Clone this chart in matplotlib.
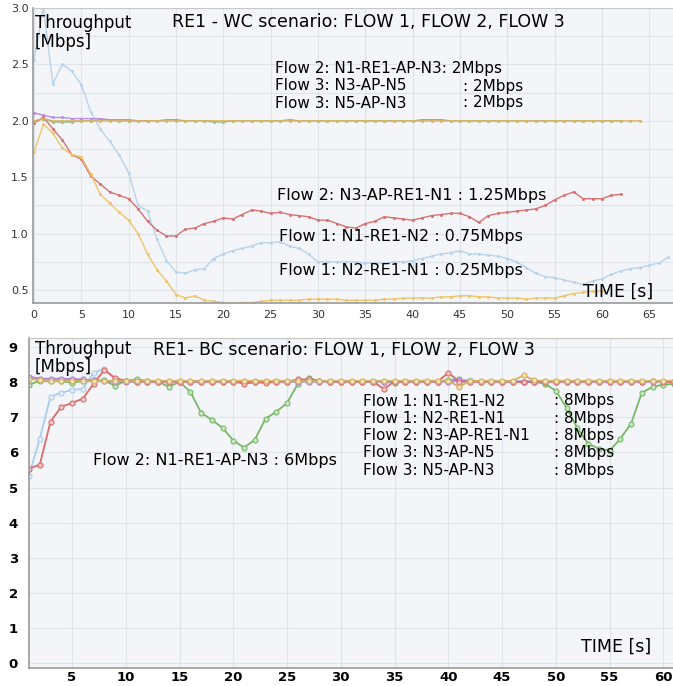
import matplotlib
matplotlib.use("Agg")
import matplotlib.pyplot as plt
import numpy as np
from matplotlib.ticker import MultipleLocator

W, H = 673, 686

# ---------------- WC scenario (top panel) ----------------
t_blue_wc = np.arange(0, 68)
blue_wc = [2.54, 3.00, 2.33, 2.50, 2.44, 2.32, 2.08, 1.93, 1.82, 1.70,
           1.54, 1.25, 1.20, 0.95, 0.76, 0.66, 0.65, 0.68, 0.69, 0.78,
           0.82, 0.85, 0.87, 0.89, 0.92, 0.92, 0.93, 0.89, 0.87, 0.82,
           0.75, 0.75, 0.75, 0.75, 0.75, 0.74, 0.74, 0.74, 0.75, 0.75,
           0.76, 0.78, 0.80, 0.82, 0.83, 0.85, 0.82, 0.82, 0.81, 0.80,
           0.78, 0.75, 0.70, 0.65, 0.62, 0.61, 0.59, 0.57, 0.55, 0.58,
           0.60, 0.64, 0.67, 0.69, 0.70, 0.72, 0.74, 0.79]

t_red_wc = np.arange(0, 63)
red_wc = [1.98, 2.03, 1.93, 1.83, 1.70, 1.66, 1.51, 1.44, 1.37, 1.34,
          1.31, 1.22, 1.11, 1.03, 0.98, 0.98, 1.04, 1.05, 1.09, 1.11,
          1.14, 1.13, 1.17, 1.21, 1.20, 1.18, 1.19, 1.17, 1.16, 1.15,
          1.12, 1.12, 1.09, 1.06, 1.05, 1.09, 1.11, 1.15, 1.14, 1.13,
          1.12, 1.14, 1.16, 1.17, 1.18, 1.18, 1.15, 1.10, 1.16, 1.18,
          1.19, 1.20, 1.21, 1.22, 1.25, 1.30, 1.34, 1.37, 1.31, 1.31,
          1.31, 1.34, 1.35]

t_yellow_wc = np.arange(0, 61)
yellow_wc = [1.72, 1.97, 1.89, 1.76, 1.70, 1.68, 1.53, 1.35, 1.27, 1.19,
             1.12, 1.00, 0.82, 0.68, 0.58, 0.46, 0.43, 0.45, 0.41, 0.40,
             0.39, 0.38, 0.39, 0.39, 0.40, 0.41, 0.41, 0.41, 0.41, 0.42,
             0.42, 0.42, 0.42, 0.41, 0.41, 0.41, 0.41, 0.42, 0.42, 0.43,
             0.43, 0.43, 0.43, 0.44, 0.44, 0.45, 0.45, 0.44, 0.44, 0.43,
             0.43, 0.43, 0.42, 0.43, 0.43, 0.43, 0.45, 0.47, 0.48, 0.49,
             0.49]

t_green_wc = np.arange(0, 63)
green_wc = [1.99, 2.02, 1.99, 1.99, 1.99, 2.00, 2.00, 2.01, 2.01, 2.00,
            2.00, 2.00, 2.00, 2.00, 2.01, 2.01, 2.00, 2.00, 2.00, 1.99,
            1.99, 2.00, 2.00, 2.00, 2.00, 2.00, 2.00, 2.01, 2.00, 2.00,
            2.00, 2.00, 2.00, 2.00, 2.00, 2.00, 2.00, 2.00, 2.00, 2.00,
            2.00, 2.01, 2.01, 2.01, 2.00, 2.00, 2.00, 2.00, 2.00, 2.00,
            2.00, 2.00, 2.00, 2.00, 2.00, 2.00, 2.00, 2.00, 2.00, 2.00,
            2.00, 2.00, 2.00]

t_purple_wc = np.arange(0, 13)
purple_wc = [2.07, 2.05, 2.03, 2.03, 2.02, 2.02, 2.02, 2.02, 2.01, 2.01,
             2.01, 2.00, 2.00]

t_tan_wc = np.arange(0, 65)
tan_wc = [2.00, 2.02] + [2.00] * 63

# ---------------- BC scenario (bottom panel) ----------------
t_bc = np.arange(1, 62)
green_bc = [7.93, 8.04, 8.04, 8.04, 7.98, 8.04, 8.05, 8.05, 7.90, 8.04,
            8.08, 8.04, 8.02, 7.87, 8.01, 7.73, 7.13, 6.93, 6.70, 6.34,
            6.14, 6.36, 6.96, 7.16, 7.41, 7.95, 8.12, 8.04, 8.02, 8.02,
            8.02, 8.02, 8.02, 8.02, 7.98, 8.02, 8.02, 8.02, 8.02, 8.06,
            8.08, 8.04, 8.02, 8.02, 8.02, 8.02, 8.02, 8.02, 7.95, 7.76,
            7.27, 6.70, 6.25, 6.11, 6.05, 6.39, 6.82, 7.70, 7.87, 7.93,
            7.95]
blue_bc = [5.34, 6.39, 7.59, 7.70, 7.78, 7.81, 8.27, 8.38, 8.10, 8.03,
           8.02, 8.02, 8.02, 8.02, 8.02, 8.02, 8.02, 8.02, 8.02, 8.02,
           8.00, 8.02, 8.02, 8.02, 8.02, 8.02, 8.02, 8.02, 8.02, 8.02,
           8.02, 8.02, 8.02, 8.02, 8.02, 8.02, 8.02, 8.02, 8.02, 8.02,
           8.06, 8.05, 8.02, 8.02, 8.02, 8.02, 8.02, 8.02, 8.02, 8.02,
           8.02, 8.02, 8.02, 8.02, 8.02, 8.02, 8.02, 8.02, 8.02, 8.02,
           8.02]
purple_bc = [8.16, 8.10, 8.10, 8.10, 8.09, 8.08, 8.05, 8.03, 8.02, 8.02,
             8.02, 8.02, 8.02, 8.02, 8.02, 8.02, 8.02, 8.02, 8.02, 8.02,
             8.02, 8.02, 8.02, 8.02, 8.02, 8.02, 8.02, 8.02, 8.02, 8.02,
             8.02, 8.02, 8.02, 8.02, 8.02, 8.02, 8.02, 8.02, 8.02, 8.02,
             8.05, 8.02, 8.02, 8.02, 8.02, 8.02, 8.02, 8.02, 8.02, 8.02,
             8.02, 8.02, 8.02, 8.02, 8.02, 8.02, 8.02, 8.02, 8.02, 8.02,
             8.02]
red_bc = [5.54, 5.65, 6.88, 7.30, 7.41, 7.53, 7.95, 8.35, 8.12, 8.04,
          8.02, 8.02, 8.02, 8.02, 8.02, 8.02, 8.02, 8.02, 8.02, 8.02,
          7.96, 8.00, 7.98, 8.02, 8.02, 8.08, 8.08, 8.04, 8.02, 8.02,
          8.02, 8.02, 8.02, 7.81, 8.02, 8.02, 8.02, 8.02, 8.02, 8.27,
          8.02, 8.02, 8.02, 8.02, 8.02, 8.02, 8.00, 8.02, 8.02, 8.02,
          8.02, 8.02, 8.02, 8.02, 8.02, 8.02, 8.02, 8.02, 8.04, 8.02,
          8.00]
tan_bc = [8.10, 8.06, 8.04, 8.04, 8.04, 8.04, 8.04, 8.04, 8.04, 8.04,
          8.04, 8.04, 8.04, 8.04, 8.04, 8.04, 8.04, 8.04, 8.04, 8.04,
          8.04, 8.04, 8.04, 8.04, 8.04, 8.04, 8.04, 8.04, 8.04, 8.04,
          8.04, 8.04, 8.04, 8.04, 8.04, 8.04, 8.04, 8.04, 8.04, 8.04,
          7.87, 8.04, 8.04, 8.04, 8.04, 8.04, 8.20, 8.05, 8.04, 8.04,
          8.04, 8.04, 8.04, 8.04, 8.04, 8.04, 8.04, 8.04, 8.04, 8.04,
          8.04]

BG = "#f3f5f8"
GRID = "#dfe3ea"


def px(x, y):
    """figure pixel (from top-left) -> figure fraction"""
    return x / W, 1 - y / H


def style_axes(ax):
    ax.set_facecolor(BG)
    for s in ("left", "bottom"):
        ax.spines[s].set_color("#9a9a9a")
        ax.spines[s].set_linewidth(1.2)
    ax.spines["top"].set_color("#c8c8c8")
    ax.spines["right"].set_visible(False)
    ax.grid(True, which="both", color=GRID, linewidth=0.8)
    ax.set_axisbelow(True)
    ax.tick_params(which="both", length=0)


fig = plt.figure(figsize=(W / 100, H / 100), dpi=100)

# ---- top axes ----
ax1 = fig.add_axes([33 / W, 1 - 303 / H, (W - 33) / W, (303 - 8) / H])
style_axes(ax1)
ax1.set_xlim(-0.1, 67.5)
ax1.set_ylim(0.386, 3.0)
ax1.xaxis.set_major_locator(MultipleLocator(5))
ax1.yaxis.set_major_locator(MultipleLocator(0.5))
ax1.yaxis.set_minor_locator(MultipleLocator(0.25))
ax1.yaxis.set_major_formatter(matplotlib.ticker.FormatStrFormatter("%.1f"))
ax1.tick_params(axis="both", labelsize=8, labelcolor="#333333")
ax1.tick_params(axis="x", pad=5)
ax1.tick_params(axis="y", pad=3)

kw1 = dict(linewidth=1.0, marker="o", markersize=2.2, markeredgewidth=0)
ax1.plot(t_blue_wc, blue_wc, color="#b9d3ec", **kw1)
ax1.plot(t_green_wc, green_wc, color="#80c080", **kw1)
ax1.plot(t_purple_wc, purple_wc, color="#b88ce8", **kw1)
ax1.plot(t_red_wc, red_wc, color="#d77272", **kw1)
ax1.plot(t_yellow_wc, yellow_wc, color="#f0c468", **kw1)
ax1.plot(t_tan_wc, tan_wc, color="#d8b46a", **kw1)

# ---- bottom axes ----
ax2 = fig.add_axes([29 / W, 1 - 668 / H, (W - 29) / W, (668 - 338) / H])
style_axes(ax2)
ax2.set_xlim(1.0, 60.9)
ax2.set_ylim(-0.14, 9.26)
ax2.xaxis.set_major_locator(MultipleLocator(5))
ax2.yaxis.set_major_locator(MultipleLocator(1))
ax2.tick_params(axis="both", labelsize=9.5)
ax2.tick_params(axis="x", pad=2.5)
ax2.tick_params(axis="y", pad=8)
for lab in ax2.get_xticklabels() + ax2.get_yticklabels():
    lab.set_fontweight("bold")

def kw2(c, fc):
    return dict(color=c, linewidth=1.3, marker="o", markersize=3.6,
                markeredgewidth=0.8, markeredgecolor=c, markerfacecolor=fc)

ax2.plot(t_bc, green_bc, **kw2("#78b868", "#c9e6c0"))
ax2.plot(t_bc, blue_bc, **kw2("#a9cdec", "#e3eff9"))
ax2.plot(t_bc, purple_bc, **kw2("#ad7ae6", "#e0cdf6"))
ax2.plot(t_bc, red_bc, **kw2("#dc6a6a", "#f3c6c6"))
ax2.plot(t_bc, tan_bc, **kw2("#d4ae5a", "#f2e2b8"))

# ---- annotations ----
FS = 11        # stacked blocks
FL = 11.5      # single labels
TS = 12.5
fig.text(*px(35, 23), "Throughput", fontsize=12, va="center")
fig.text(*px(35, 42), "[Mbps]", fontsize=12, va="center")
fig.text(*px(172, 22), "RE1 - WC scenario: FLOW 1, FLOW 2, FLOW 3",
         fontsize=TS, va="center")
wc_rows = [("Flow 2: N1-RE1-AP-N3: 2Mbps", None),
           ("Flow 3: N3-AP-N5", ": 2Mbps"),
           ("Flow 3: N5-AP-N3", ": 2Mbps")]
for i, (left, right) in enumerate(wc_rows):
    y = 69 + i * 17
    fig.text(*px(275, y), left, fontsize=FS, va="center")
    if right:
        fig.text(*px(463, y), right, fontsize=FS, va="center")
fig.text(*px(277, 195), "Flow 2: N3-AP-RE1-N1 : 1.25Mbps", fontsize=FL, va="center")
fig.text(*px(279, 237), "Flow 1: N1-RE1-N2 : 0.75Mbps", fontsize=FL, va="center")
fig.text(*px(279, 270), "Flow 1: N2-RE1-N1 : 0.25Mbps", fontsize=FL, va="center")
fig.text(*px(583, 292), "TIME [s]", fontsize=12.5, va="center")

fig.text(*px(35, 349), "Throughput", fontsize=12, va="center")
fig.text(*px(35, 367), "[Mbps]", fontsize=12, va="center")
fig.text(*px(153, 350), "RE1- BC scenario: FLOW 1, FLOW 2, FLOW 3",
         fontsize=TS, va="center")
fig.text(*px(93, 460), "Flow 2: N1-RE1-AP-N3 : 6Mbps", fontsize=FL, va="center")
bc_routes = ["Flow 1: N1-RE1-N2", "Flow 1: N2-RE1-N1", "Flow 2: N3-AP-RE1-N1",
             "Flow 3: N3-AP-N5", "Flow 3: N5-AP-N3"]
for i, r in enumerate(bc_routes):
    y = 401 + i * 17.3
    fig.text(*px(363, y), r, fontsize=FS, va="center")
    fig.text(*px(554, y), ": 8Mbps", fontsize=FS, va="center")
fig.text(*px(581, 647), "TIME [s]", fontsize=12.5, va="center")

fig.savefig("out.png", dpi=100)
